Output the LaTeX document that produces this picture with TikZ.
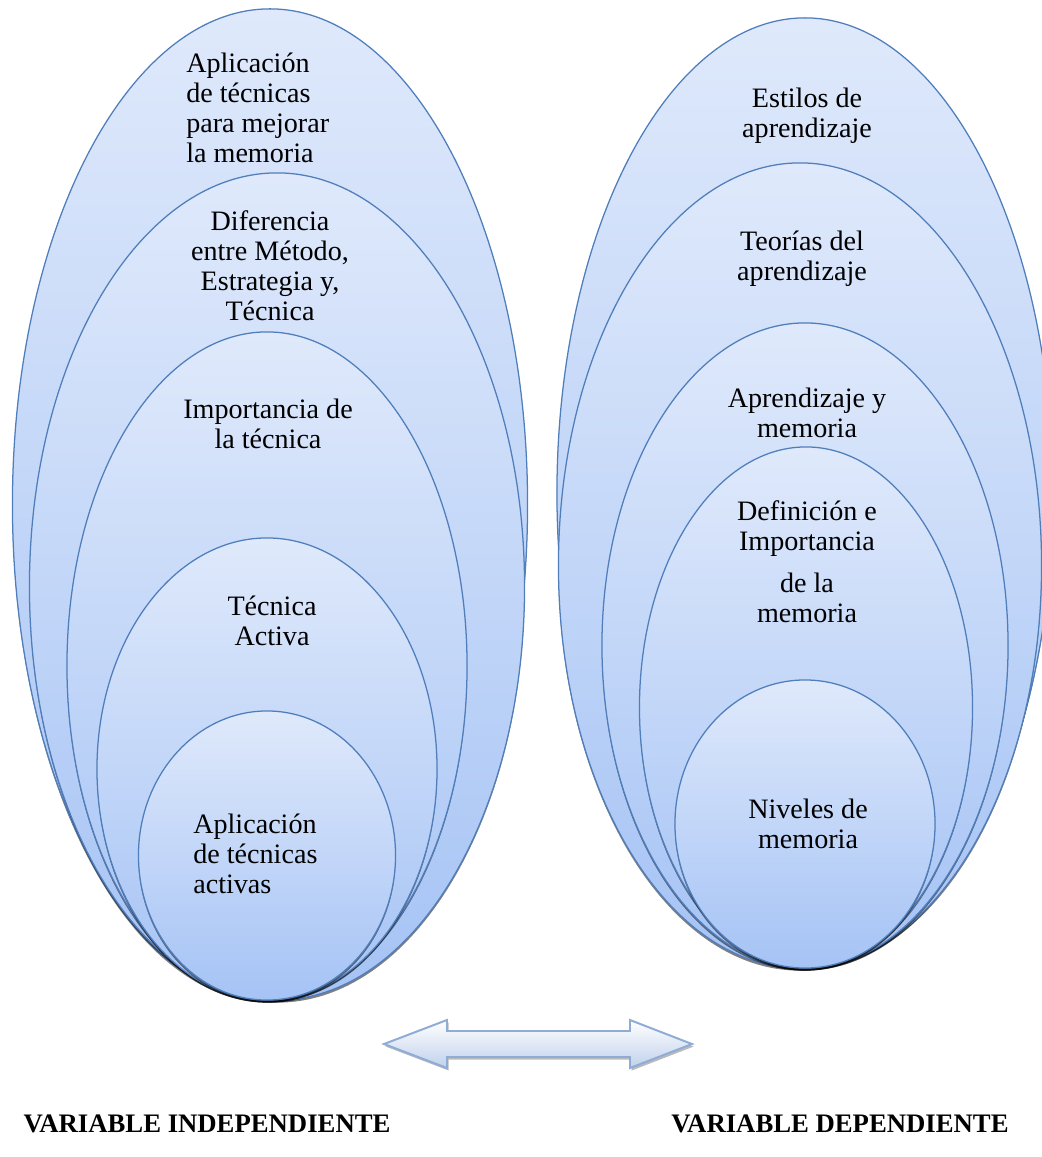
\documentclass[tikz,border=0pt]{standalone}
\usepackage{fontspec}
\setmainfont{Liberation Serif}
\usetikzlibrary{shapes.geometric,shadows}

\definecolor{ringline}{RGB}{79,126,187}
\definecolor{ringtop}{RGB}{223,233,251}
\definecolor{ringbot}{RGB}{165,195,245}
\definecolor{arrowline}{RGB}{143,172,214}
\definecolor{arrowbot}{RGB}{192,209,235}

\begin{document}
\begin{tikzpicture}
[x=0.025cm,y=-0.025cm,
ring/.style 2 args={ellipse,draw=ringline,line width=0.9pt,
  top color=ringtop,bottom color=ringbot,inner sep=0pt,
  minimum width=#1cm,minimum height=#2cm,
  drop shadow={shadow xshift=0pt,shadow yshift=-1.8pt,opacity=0.5,fill=black}},
topic/.style={inner sep=0pt,align=center,anchor=north,
  font=\fontsize{20}{21.3}\selectfont},
lefttopic/.style={topic,align=left,anchor=north west},
varlabel/.style={anchor=base,inner sep=0pt,font=\bfseries\fontsize{19}{21}\selectfont},
bigarrow/.style={draw=arrowline,line width=1.4pt,line join=miter,
  top color=white,bottom color=arrowbot,
  drop shadow={shadow xshift=1.2pt,shadow yshift=-1.8pt,opacity=0.45,fill=black!60}}]
\useasboundingbox (0,0) rectangle (1041,1157);

% independent variable
\node [ring={12.875}{24.775}] (li1) at (270,504.5) {};
\node [ring={12.375}{20.675}] (li2) at (277,586.5) {};
\node [ring={10.0}{16.7}] (li3) at (267,666) {};
\node [ring={8.5}{11.55}] (li4) at (267,769) {};
\node [ring={6.425}{7.225}] (li5) at (267,855.5) {};
\node [lefttopic] (lt1) at (186,52.5) {Aplicación\\de técnicas\\para mejorar\\la memoria};
\node [topic] (lt2) at (270,210.5) {Diferencia\\entre Método,\\Estrategia y,\\Técnica};
\node [topic] (lt3) at (268,398.5) {Importancia de\\la técnica};
\node [topic] (lt4) at (272,595.5) {Técnica\\Activa};
\node [lefttopic] (lt5) at (193,813.5) {Aplicación\\de técnicas\\activas};

% dependent variable
\node [ring={12.4}{23.75}] (ri1) at (805,493) {};
\node [ring={12.075}{20.125}] (ri2) at (800,565.5) {};
\node [ring={10.15}{16.125}] (ri3) at (805,645.5) {};
\node [ring={8.325}{13.025}] (ri4) at (806,707.5) {};
\node [ring={6.5}{7.2}] (ri5) at (805,824) {};
\node [topic] (rt1) at (807,87.5) {Estilos de\\aprendizaje};
\node [topic] (rt2) at (802,230.5) {Teorías del\\aprendizaje};
\node [topic] (rt3) at (807,387.5) {Aprendizaje y\\memoria};
\node [topic] (rt4) at (807,500.5) {Definición e\\Importancia\\[0.3cm]de la\\memoria};
\node [topic] (rt5) at (808,798.5) {Niveles de\\memoria};

% link
\path [bigarrow] (384,1044) -- (447,1020) -- (447,1031) -- (630,1031) -- (630,1020)
  -- (692,1044) -- (630,1068) -- (630,1057) -- (447,1057) -- (447,1068) -- cycle;

\node [varlabel] (vi) at (207,1132) {VARIABLE INDEPENDIENTE};
\node [varlabel] (vd) at (840,1132) {VARIABLE DEPENDIENTE};
\end{tikzpicture}
\end{document}
